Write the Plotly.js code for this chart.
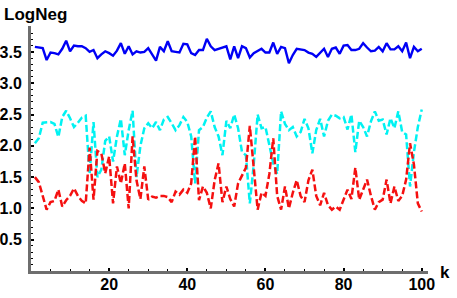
<!DOCTYPE html>
<html>
<head>
<meta charset="utf-8">
<script src="https://cdn.plot.ly/plotly-3.0.1.min.js"></script>
<style>html,body{margin:0;padding:0;background:#fff;}#plot{width:457px;height:298px;}</style>
</head>
<body>
<div id="plot"></div>
<script>
const blueVals = [3.58,3.57,3.56,3.37,3.49,3.48,3.46,3.55,3.68,3.51, 3.60,3.59,3.59,3.56,3.50,3.53,3.40,3.46,3.51,3.48,
  3.44,3.52,3.64,3.47,3.59,3.46,3.51,3.49,3.50,3.56, 3.47,3.36,3.58,3.51,3.67,3.51,3.50,3.49,3.63,3.62,
  3.48,3.45,3.53,3.53,3.71,3.59,3.53,3.55,3.57,3.59, 3.38,3.59,3.40,3.59,3.56,3.41,3.48,3.51,3.55,3.49,
  3.49,3.65,3.47,3.58,3.56,3.32,3.45,3.55,3.54,3.53, 3.49,3.47,3.42,3.48,3.55,3.42,3.55,3.57,3.47,3.60,
  3.61,3.53,3.53,3.55,3.64,3.57,3.51,3.52,3.58,3.51, 3.64,3.54,3.54,3.59,3.51,3.65,3.40,3.58,3.51,3.55];
const cyanVals = [2.04,2.12,2.37,2.38,2.38,2.35,2.14,2.46,2.56,2.44, 2.30,2.37,2.45,2.48,1.55,2.38,1.50,1.62,2.08,2.15,
  1.75,2.15,2.43,1.85,2.25,2.56,1.50,2.00,2.28,2.36, 2.28,2.38,2.25,2.42,2.46,2.36,2.25,2.33,2.46,2.38,
  2.15,1.40,2.25,2.30,2.45,2.55,2.30,2.15,1.85,2.40, 2.28,2.50,2.28,1.90,1.85,1.08,1.70,2.50,2.28,2.30,
  1.99,1.72,1.55,2.55,2.35,2.25,2.30,2.15,2.22,2.43, 2.28,1.88,2.25,2.43,2.15,2.40,2.50,2.48,2.44,2.46,
  2.26,2.50,1.90,2.40,2.30,2.15,2.39,2.55,2.40,2.42, 2.18,2.44,2.28,2.55,2.22,2.18,1.35,1.90,2.30,2.58];
const redVals = [1.50,1.42,1.20,0.98,1.10,1.12,1.30,1.03,1.13,1.20, 1.32,1.20,1.12,1.08,1.97,1.14,1.92,1.88,1.56,1.83,
  1.08,1.67,1.40,1.72,1.00,2.15,1.45,1.15,1.67,1.14, 1.19,1.17,1.20,1.20,1.18,1.10,1.27,1.22,1.30,1.25,
  1.40,2.15,1.13,1.35,1.25,1.00,1.45,1.72,1.10,1.35, 1.15,1.03,1.40,1.52,1.65,2.32,1.60,0.98,1.25,1.20,
  1.55,2.12,1.20,0.98,1.35,1.00,1.25,1.45,1.20,1.10, 1.45,1.62,1.20,1.05,1.25,1.05,0.98,1.03,0.98,1.15,
  1.30,1.15,1.65,1.14,1.30,1.46,1.20,0.98,1.10,1.14, 1.46,1.08,1.35,1.12,1.20,1.46,2.04,1.70,1.08,0.95];
const kVals = blueVals.map((_, i) => i + 1);
const xTickVals = [20, 40, 60, 80, 100];
const yTickVals = [0.5, 1.0, 1.5, 2.0, 2.5, 3.0, 3.5];
const yTickText = ['0.5', '1.0', '1.5', '2.0', '2.5', '3.0', '3.5'];
const yLabel = 'LogNeg';
const xLabel = 'k';

const fontFam = '"Liberation Sans", Arial, sans-serif';
const boldFont = {family: fontFam, size: 17, color: '#000', weight: 700};
const tickFont = {family: fontFam, size: 16, color: '#000', weight: 700};
const traces = [
  {x: kVals, y: blueVals, mode: 'lines', line: {color: '#0000f5', width: 2.4}, hoverinfo: 'skip'},
  {x: kVals, y: cyanVals, mode: 'lines', line: {color: '#00f2f2', width: 2.5, dash: '7px,3px'}, hoverinfo: 'skip'},
  {x: kVals, y: redVals, mode: 'lines', line: {color: '#f51010', width: 2.5, dash: '7px,3px'}, hoverinfo: 'skip'}
];
const axisCommon = {
  showgrid: false, zeroline: false, showline: true, linecolor: '#6e6e6e', linewidth: 3,
  ticks: 'inside', tickcolor: '#000', ticklen: 3, tickwidth: 2,
  tickfont: tickFont,
  fixedrange: true
};
const layout = {
  width: 457, height: 298,
  margin: {l: 31, r: 29, t: 26, b: 27},
  paper_bgcolor: '#fff', plot_bgcolor: '#fff',
  showlegend: false,
  xaxis: Object.assign({}, axisCommon, {
    range: [0.001, 101.6], tickmode: 'array', tickvals: xTickVals, ticktext: xTickVals.map(String),
    minor: {tickmode: 'linear', tick0: 0, dtick: 5, ticks: 'inside', ticklen: 2, tickwidth: 1, tickcolor: '#000'},
    ticklabelstandoff: -3
  }),
  yaxis: Object.assign({}, axisCommon, {
    range: [0.0001, 3.914], tickmode: 'array', tickvals: yTickVals, ticktext: yTickText,
    minor: {tickmode: 'linear', tick0: 0, dtick: 0.1, ticks: 'inside', ticklen: 2, tickwidth: 1, tickcolor: '#000'},
    ticklabelstandoff: 3
  }),
  annotations: [
    {text: yLabel, xref: 'paper', yref: 'paper', x: -29/397, y: (271-3)/245, xanchor: 'left', yanchor: 'top',
     showarrow: false, font: boldFont},
    {text: xLabel, xref: 'paper', yref: 'paper', x: (438-31)/397, y: (271-272)/245, xanchor: 'left', yanchor: 'middle',
     showarrow: false, font: boldFont}
  ]
};
Plotly.newPlot('plot', traces, layout, {staticPlot: true, displayModeBar: false});
</script>
</body>
</html>
